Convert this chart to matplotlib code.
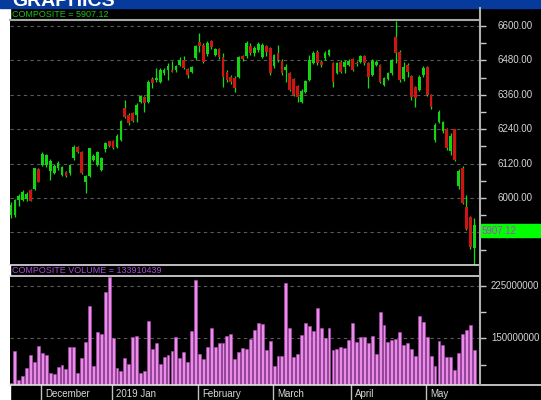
import matplotlib
matplotlib.use("Agg")
import matplotlib.pyplot as plt
from matplotlib.patches import Rectangle
from matplotlib.lines import Line2D
import numpy as np

plt.rcParams['font.family'] = ['Liberation Sans', 'DejaVu Sans']

# daily OHLC, 21 Nov 2018 .. 20 May 2019
opens = [5941, 5941, 5993, 5993, 5995, 6028, 6030, 6101, 6115, 6115,
         6094, 6088, 6103, 6080, 6092, 6086, 6138, 6177, 6162, 6057,
         6077, 6133, 6115, 6098, 6170, 6197, 6197, 6179, 6202, 6313,
         6290, 6295, 6289, 6336, 6351, 6336, 6414, 6412, 6406, 6435,
         6447, 6447, 6447, 6464, 6481, 6449, 6441, 6487, 6545, 6534,
         6501, 6548, 6499, 6519, 6493, 6441, 6423, 6420, 6423, 6495,
         6495, 6530, 6505, 6516, 6493, 6530, 6522, 6461, 6505, 6479,
         6447, 6435, 6414, 6391, 6336, 6371, 6412, 6472, 6510, 6476,
         6487, 6499, 6470, 6437, 6476, 6458, 6464, 6484, 6472, 6476,
         6495, 6472, 6429, 6464, 6464, 6394, 6414, 6435, 6563, 6510,
         6414, 6464, 6425, 6386, 6377, 6429, 6458, 6359, 6202, 6266,
         6234, 6240, 6165, 6240, 6040, 6104, 5970, 5933, 5825]
highs = [5985, 5998, 6014, 6026, 6020, 6032, 6106, 6104, 6160, 6155,
         6135, 6118, 6130, 6113, 6095, 6120, 6185, 6182, 6165, 6080,
         6176, 6155, 6163, 6142, 6195, 6200, 6202, 6222, 6272, 6342,
         6295, 6300, 6330, 6360, 6356, 6410, 6421, 6452, 6452, 6452,
         6470, 6478, 6465, 6491, 6495, 6455, 6462, 6535, 6574, 6540,
         6546, 6552, 6524, 6524, 6505, 6446, 6428, 6425, 6497, 6500,
         6548, 6540, 6530, 6545, 6540, 6535, 6527, 6503, 6534, 6484,
         6467, 6440, 6418, 6395, 6380, 6412, 6500, 6512, 6516, 6480,
         6512, 6520, 6475, 6475, 6480, 6480, 6484, 6488, 6478, 6500,
         6500, 6476, 6484, 6480, 6468, 6421, 6440, 6486, 6618, 6515,
         6475, 6470, 6430, 6390, 6428, 6460, 6462, 6362, 6260, 6308,
         6270, 6245, 6226, 6242, 6100, 6110, 6010, 5936, 5929]
lows = [5930, 5935, 5972, 5988, 5990, 5988, 6028, 6055, 6110, 6108,
        6063, 6082, 6098, 6075, 6072, 6080, 6134, 6158, 6085, 6016,
        6074, 6128, 6110, 6095, 6160, 6178, 6170, 6175, 6198, 6280,
        6255, 6265, 6266, 6330, 6301, 6332, 6383, 6406, 6400, 6430,
        6412, 6438, 6440, 6460, 6450, 6420, 6436, 6482, 6511, 6470,
        6495, 6520, 6494, 6486, 6388, 6405, 6398, 6370, 6418, 6478,
        6490, 6500, 6495, 6510, 6490, 6495, 6430, 6455, 6476, 6430,
        6406, 6372, 6355, 6336, 6330, 6366, 6408, 6468, 6465, 6458,
        6482, 6494, 6388, 6432, 6436, 6437, 6460, 6442, 6460, 6470,
        6465, 6383, 6425, 6460, 6400, 6390, 6410, 6430, 6470, 6405,
        6408, 6423, 6342, 6319, 6372, 6423, 6355, 6310, 6195, 6260,
        6228, 6168, 6150, 6130, 6030, 5978, 5888, 5822, 5766]
closes = [5976, 5993, 6007, 6022, 6014, 5991, 6103, 6057, 6153, 6150,
          6130, 6113, 6123, 6109, 6077, 6114, 6179, 6162, 6088, 6077,
          6173, 6147, 6159, 6138, 6191, 6182, 6176, 6216, 6269, 6284,
          6261, 6270, 6324, 6356, 6333, 6406, 6400, 6418, 6447, 6447,
          6462, 6441, 6460, 6481, 6455, 6429, 6458, 6530, 6530, 6476,
          6542, 6528, 6519, 6491, 6423, 6412, 6406, 6383, 6493, 6484,
          6540, 6505, 6522, 6537, 6534, 6510, 6435, 6499, 6481, 6435,
          6458, 6377, 6359, 6351, 6374, 6408, 6481, 6505, 6470, 6464,
          6507, 6516, 6406, 6470, 6441, 6476, 6479, 6447, 6466, 6495,
          6470, 6423, 6479, 6476, 6406, 6417, 6435, 6481, 6505, 6412,
          6458, 6441, 6353, 6348, 6423, 6452, 6359, 6316, 6255, 6301,
          6266, 6173, 6215, 6133, 6095, 5982, 5891, 5828, 5907.12]
# volume in millions of shares
volumes = [86.4, 131.4, 90.7, 95.5, 108.0, 125.6, 116.0, 139.0, 129.4, 125.6,
           99.8, 98.4, 109.4, 112.2, 105.5, 137.6, 137.6, 99.8, 121.3, 144.7,
           195.9, 110.8, 159.6, 156.7, 216.0, 238.0, 151.0, 108.0, 102.7, 121.3,
           113.0, 152.4, 153.8, 99.8, 102.7, 174.4, 134.7, 142.8, 113.7, 122.8,
           125.6, 132.3, 152.4, 121.3, 130.9, 116.5, 161.0, 233.7, 127.0, 119.9,
           137.6, 164.8, 137.6, 142.8, 142.8, 153.8, 155.7, 119.9, 129.9, 136.1,
           134.7, 149.5, 161.5, 172.5, 170.0, 133.7, 145.7, 110.8, 124.2, 125.1,
           228.4, 164.3, 122.8, 128.0, 155.3, 171.5, 167.2, 161.0, 193.0, 164.3,
           151.0, 164.3, 133.7, 134.7, 137.6, 136.1, 147.1, 171.5, 144.3, 152.4,
           152.4, 142.8, 153.8, 128.0, 187.3, 168.6, 144.3, 147.1, 149.5, 159.1,
           140.4, 142.8, 134.7, 124.2, 182.0, 173.9, 151.4, 124.2, 110.8, 145.7,
           140.4, 122.8, 122.8, 104.1, 129.4, 156.7, 162.0, 168.6, 133.91]

month_labels = ["December", "2019 Jan", "February", "March", "April", "May"]
month_starts = [8, 26, 48, 67, 87, 106]
price_labels = [6000, 6120, 6240, 6360, 6480, 6600]
volume_labels = [150000000, 225000000]
last_close = 5907.12
last_volume = 133910439

W, H = 541, 400


def px_box(x0, y0, x1, y1):
    return [x0 / W, 1 - y1 / H, (x1 - x0) / W, (y1 - y0) / H]


def hline(y, x0, x1, color, lw=1.0):
    fig.add_artist(Line2D([x0 / W, x1 / W], [1 - y / H, 1 - y / H],
                          color=color, lw=lw))


def vline(x, y0, y1, color, lw=1.0):
    fig.add_artist(Line2D([x / W, x / W], [1 - y0 / H, 1 - y1 / H],
                          color=color, lw=lw))


fig = plt.figure(figsize=(W / 100, H / 100), dpi=100, facecolor="black")

# page background pieces
fig.add_artist(Rectangle((0, 0), 10 / W, 1, transform=fig.transFigure,
                         color="white", zorder=0))
fig.add_artist(Rectangle((0, 1 - 8 / H), 1, 8 / H, transform=fig.transFigure,
                         color="#063a9c", zorder=0))
fig.text(12 / W, 1 - 6.0 / H, "GRAPHICS", color="white", fontsize=14,
         fontweight="bold", va="baseline", ha="left")

x = np.arange(len(closes))
o = np.array(opens)
c = np.array(closes)
vol = np.array(volumes) * 1e6

ax_p = fig.add_axes(px_box(10, 20, 480, 265))
ax_v = fig.add_axes(px_box(10, 276, 480, 385))

for ax in (ax_p, ax_v):
    ax.set_facecolor("black")
    for s in ax.spines.values():
        s.set_visible(False)
    ax.set_xlim(-0.25, 119.45)
    ax.set_xticks([])
    ax.yaxis.tick_right()
    ax.tick_params(axis="y", which="both", direction="out", length=4.5,
                   width=1, color="#c8c8c8", labelright=False, left=False)

# price panel
ax_p.set_ylim(5766, 6621)
ax_p.set_yticks(np.arange(5880, 6601, 120))
ax_p.set_yticks(np.arange(5820, 6601, 120), minor=True)
ax_p.grid(axis="y", which="major", color="#5a5a5a", linestyle=(0, (3, 3)),
          linewidth=0.8)
ax_p.vlines(x, lows, highs, color="#10e010", linewidth=0.9, zorder=2)
body_col = np.where(c >= o, "#14d414", "#d01414")
ax_p.bar(x, np.maximum(np.abs(c - o), 3), bottom=np.minimum(o, c),
         width=0.7, color=body_col, linewidth=0, zorder=3)
for v in price_labels:
    ax_p.text(1 + 35 / 470, v, f"{v:.2f}", transform=ax_p.get_yaxis_transform(),
              ha="center", va="center", color="#d4d4d4", fontsize=7)

# volume panel
ax_v.set_ylim(83.3e6, 238.9e6)
ax_v.set_yticks(volume_labels)
ax_v.set_yticks([112500000, 187500000], minor=True)
ax_v.grid(axis="y", which="major", color="#5a5a5a", linestyle=(0, (3, 3)),
          linewidth=0.8)
ax_v.bar(x, vol, width=0.74, color="#e88ce8", edgecolor="#b448b8",
         linewidth=0.4, zorder=3)
for v in volume_labels:
    ax_v.text(1 + 35 / 470, v, f"{v}", transform=ax_v.get_yaxis_transform(),
              ha="center", va="center", color="#d4d4d4", fontsize=7)

# month separators and labels under the volume panel
tr = ax_v.get_xaxis_transform()
for pos, lab in zip(month_starts, month_labels):
    ax_v.add_line(Line2D([pos - 0.3, pos - 0.3], [0, -0.15], transform=tr,
                         color="#c0c0c0", lw=1, clip_on=False))
    ax_v.text(pos + 0.7, -0.085, lab, transform=tr, ha="left", va="center",
              color="#d8d8d8", fontsize=7, clip_on=False)

# frame lines
hline(20, 10, 480, "#a8a8a8", 1.5)
hline(265, 10, 480, "#e0e0e0", 1.2)
hline(276, 10, 480, "#e0e0e0", 1.2)
hline(385, 10, 541, "#e0e0e0", 1.2)
vline(480, 8, 385, "#b0b0b0", 1.5)

# panel titles
fig.text(12 / W, 1 - 14.5 / H, f"COMPOSITE = {last_close:.2f}",
         color="#20c020", fontsize=6.5, va="center", ha="left")
fig.text(12 / W, 1 - 270.5 / H, f"COMPOSITE VOLUME = {last_volume}",
         color="#a44cd4", fontsize=6.5, va="center", ha="left")

# last price marker
fig.add_artist(Rectangle((481 / W, 1 - 237 / H), 60 / W, 13 / H,
                         transform=fig.transFigure, color="#00ff00", zorder=5))
fig.text(482 / W, 1 - 230.5 / H, f"{last_close:.2f}", color="#b040d0",
         fontsize=7, va="center", ha="left", zorder=6)

fig.savefig("out.png", dpi=100, facecolor="black")
